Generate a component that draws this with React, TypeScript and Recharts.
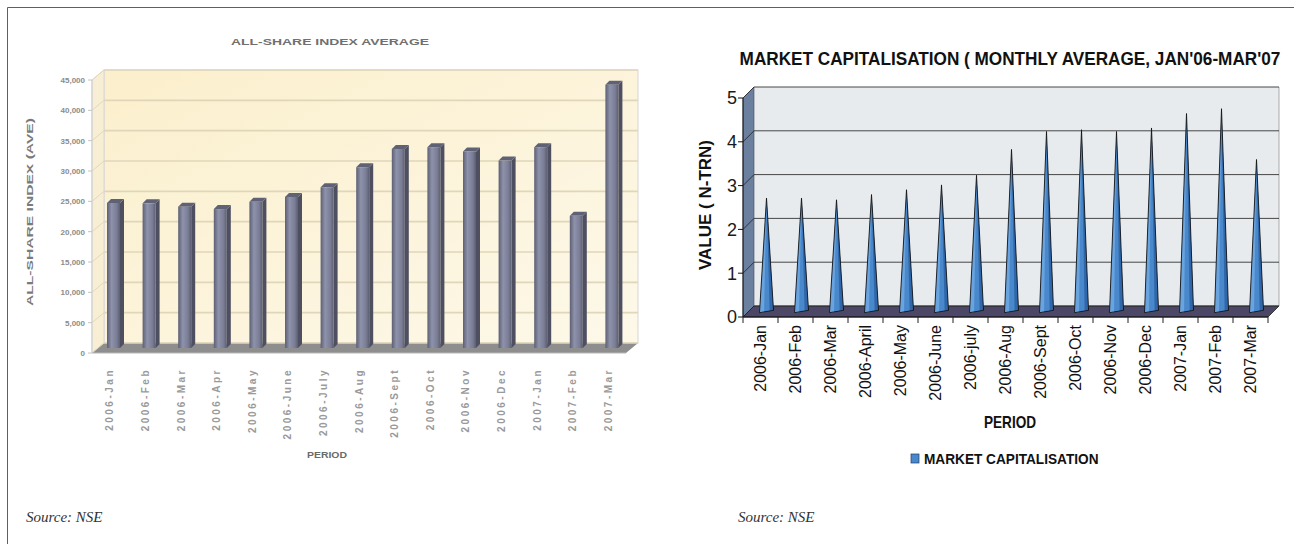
import React from 'react';
import {
  ComposedChart,
  Bar,
  XAxis,
  YAxis,
  CartesianGrid,
  ReferenceArea,
} from 'recharts';

// left chart: all-share index monthly average
const shareMonths = [
  '2006-Jan', '2006-Feb', '2006-Mar', '2006-Apr', '2006-May', '2006-June',
  '2006-July', '2006-Aug', '2006-Sept', '2006-Oct', '2006-Nov', '2006-Dec',
  '2007-Jan', '2007-Feb', '2007-Mar',
];
const shareIndex = [
  23900, 23850, 23300, 22900, 24100, 24900, 26500, 29800, 32800, 33100,
  32400, 30900, 33100, 21800, 43400,
];
const shareTicks = [0, 5000, 10000, 15000, 20000, 25000, 30000, 35000, 40000, 45000];

// right chart: market capitalisation (N trillion)
const capMonths = [
  '2006-Jan', '2006-Feb', '2006-Mar', '2006-April', '2006-May', '2006-June',
  '2006-july', '2006-Aug', '2006-Sept', '2006-Oct', '2006-Nov', '2006-Dec',
  '2007-Jan', '2007-Feb', '2007-Mar',
];
const capValues = [
  2.59, 2.59, 2.55, 2.67, 2.78, 2.89, 3.11, 3.7, 4.11, 4.15, 4.11, 4.19,
  4.52, 4.63, 3.47,
];
const capTicks = [0, 1, 2, 3, 4, 5];

const shareData = shareMonths.map((m, i) => ({ month: m, value: shareIndex[i] }));
const capData = capMonths.map((m, i) => ({ month: m, value: capValues[i] }));

const SANS = "'Liberation Sans', Arial, sans-serif";

// 3d depth of the two boxes
const SDX = 12;
const SDY = 10;
const CD = 11;

const ShareWalls = (props: any) => {
  const { x, y, width, height } = props;
  const b = y + height;
  return (
    <g>
      <defs>
        <linearGradient id="shareWall" x1="0" y1="0" x2="1" y2="1">
          <stop offset="0%" stopColor="#fbefcc" />
          <stop offset="100%" stopColor="#fdf8e9" />
        </linearGradient>
        <linearGradient id="colFace" x1="0" y1="0" x2="1" y2="0">
          <stop offset="0%" stopColor="#5d6073" />
          <stop offset="35%" stopColor="#8e92ab" />
          <stop offset="75%" stopColor="#7a7d95" />
          <stop offset="100%" stopColor="#5c5e70" />
        </linearGradient>
      </defs>
      <rect x={x + SDX} y={y - SDY} width={width} height={height} fill="url(#shareWall)" stroke="#d6d6d6" />
      <polygon
        points={`${x},${y} ${x + SDX},${y - SDY} ${x + SDX},${b - SDY} ${x},${b}`}
        fill="#f8eed4"
        stroke="#d8d8d8"
      />
      <polygon
        points={`${x},${b} ${x + SDX},${b - SDY} ${x + width + SDX},${b - SDY} ${x + width},${b}`}
        fill="#8e8e8e"
      />
    </g>
  );
};

const shareGridLine = (p: any) => (
  <g key={p.key ?? `sg-${p.y1}`}>
    <line x1={p.x1} y1={p.y1} x2={p.x1 + SDX} y2={p.y1 - SDY} stroke="#e2d8bb" strokeWidth={1} />
    <line x1={p.x1 + SDX} y1={p.y1 - SDY} x2={p.x2 + SDX} y2={p.y2 - SDY} stroke="#e0d6b9" strokeWidth={1.6} />
  </g>
);

const Column = (props: any) => {
  const { x, y, width, height } = props;
  if (!height) return null;
  const fx = x + 4;
  const fy = y - 5;
  const bd = 4;
  return (
    <g>
      <polygon
        points={`${fx + width},${fy} ${fx + width + bd},${fy - bd} ${fx + width + bd},${fy + height - bd} ${fx + width},${fy + height}`}
        fill="#4e5062"
      />
      <polygon
        points={`${fx},${fy} ${fx + bd},${fy - bd} ${fx + width + bd},${fy - bd} ${fx + width},${fy}`}
        fill="#5f6174"
      />
      <rect x={fx} y={fy} width={width} height={height} fill="url(#colFace)" />
    </g>
  );
};

const ShareTick = (p: any) => {
  const { x, y, payload } = p;
  return (
    <g transform={`translate(${x},${y})`}>
      <text
        transform="rotate(-90)"
        x={-7}
        dy="0.35em"
        textAnchor="end"
        fontSize={10}
        letterSpacing={2.5}
        fontWeight={700}
        fill="#9a9a9a"
        fontFamily={SANS}
      >
        {payload.value}
      </text>
    </g>
  );
};

const CapWalls = (props: any) => {
  const { x, y, width, height } = props;
  const b = y + height;
  return (
    <g>
      <rect x={x + CD} y={y - CD} width={width} height={height} fill="#e8ebee" />
      <line x1={x + width + CD} y1={y - CD} x2={x + width + CD} y2={b - CD} stroke="#a9a9a9" />
      <polygon
        points={`${x},${y} ${x + CD},${y - CD} ${x + CD},${b - CD} ${x},${b}`}
        fill="#6b7f9f"
        stroke="#3c4660"
        strokeWidth={0.6}
      />
      <polygon
        points={`${x},${b} ${x + CD},${b - CD} ${x + width + CD},${b - CD} ${x + width},${b}`}
        fill="#4c4767"
        stroke="#1e1e1e"
        strokeWidth={0.8}
      />
    </g>
  );
};

const capGridLine = (p: any) => (
  <g key={p.key ?? `cg-${p.y1}`}>
    <line x1={p.x1} y1={p.y1} x2={p.x1 + CD} y2={p.y1 - CD} stroke="#222" strokeWidth={0.8} />
    <line x1={p.x1 + CD} y1={p.y1 - CD} x2={p.x2 + CD} y2={p.y2 - CD} stroke="#333" strokeWidth={0.9} />
  </g>
);

const Cone = (props: any) => {
  const { x, y, width, height } = props;
  if (!height) return null;
  const h = CD / 2;
  const r = width / 2;
  const cx = x + r + h;
  const tipY = y - h;
  const baseY = y + height - h;
  const L = `${cx - r},${baseY + 1.2}`;
  const R = `${cx + r},${baseY - 1.2}`;
  return (
    <g>
      <polygon points={`${cx},${tipY} ${L} ${R}`} fill="#4a88cc" />
      <polygon points={`${cx},${tipY} ${L} ${cx - r * 0.35},${baseY + 0.8}`} fill="#6aa4df" />
      <polygon points={`${cx},${tipY} ${cx + r * 0.45},${baseY - 0.4} ${R}`} fill="#2f67aa" />
      <line x1={cx + r} y1={baseY - 1.2} x2={cx + r} y2={baseY - 4} stroke="#1a1a1a" strokeWidth={0.8} />
      <polygon points={`${cx},${tipY} ${L} ${R}`} fill="none" stroke="#141414" strokeWidth={0.9} strokeLinejoin="round" />
    </g>
  );
};

const CapTick = (p: any) => {
  const { x, y, payload, index } = p;
  const off = payload && payload.offset ? payload.offset : 17.5;
  return (
    <g transform={`translate(${x},${y})`}>
      <line x1={-off} y1={-8} x2={-off} y2={-2} stroke="#222" />
      {index === capMonths.length - 1 && (
        <line x1={off} y1={-8} x2={off} y2={-2} stroke="#222" />
      )}
      <text
        transform="rotate(-90)"
        x={0}
        dy="0.36em"
        textAnchor="end"
        fontSize={16}
        fill="#111"
        fontFamily={SANS}
      >
        {payload.value}
      </text>
    </g>
  );
};

const App: React.FC = () => {
  return (
    <div style={{ position: 'absolute', left: 0, top: 0, width: 1294, height: 544, background: '#fff', overflow: 'hidden' }}>
      {/* left: all-share index */}
      <div style={{ position: 'absolute', left: 0, top: 0 }}>
        <ComposedChart width={660} height={544} data={shareData} margin={{ top: 80, right: 34, bottom: 0, left: 0 }}>
          <ReferenceArea y1={0} y2={45000} shape={<ShareWalls />} ifOverflow="visible" zIndex={-200} />
          <CartesianGrid vertical={false} horizontal={shareGridLine} />
          <XAxis
            dataKey="month"
            interval={0}
            height={191}
            tick={<ShareTick />}
            tickLine={{ stroke: 'none' }}
            tickSize={6}
            tickMargin={2}
            axisLine={{ stroke: '#b8b8b8' }}
          />
          <YAxis
            width={92}
            domain={[0, 45000]}
            ticks={shareTicks}
            tickFormatter={(v: number) => v.toLocaleString('en-US')}
            tick={{ fontSize: 8, fontWeight: 700, fill: '#8c8c8c', fontFamily: SANS }}
            tickSize={4}
            tickMargin={3}
            tickLine={{ stroke: '#c4c4c4' }}
            axisLine={{ stroke: '#cfcfcf' }}
          />
          <Bar dataKey="value" barSize={13} shape={<Column />} isAnimationActive={false} />
        </ComposedChart>
      </div>

      {/* right: market capitalisation */}
      <div style={{ position: 'absolute', left: 660, top: 0 }}>
        <ComposedChart width={634} height={544} data={capData} margin={{ top: 98, right: 26, bottom: 0, left: 0 }}>
          <ReferenceArea y1={0} y2={5} shape={<CapWalls />} ifOverflow="visible" zIndex={-200} />
          <CartesianGrid vertical={false} horizontal={capGridLine} />
          <XAxis
            dataKey="month"
            interval={0}
            height={227}
            tick={<CapTick />}
            tickLine={{ stroke: 'none' }}
            tickSize={6}
            tickMargin={2}
            axisLine={{ stroke: '#111' }}
          />
          <YAxis
            width={83}
            domain={[0, 5]}
            ticks={capTicks}
            tick={{ fontSize: 18, fill: '#1a1a1a', fontFamily: SANS }}
            tickSize={5}
            tickMargin={1}
            tickLine={{ stroke: '#111' }}
            axisLine={{ stroke: '#111' }}
          />
          <Bar dataKey="value" barSize={14} shape={<Cone />} isAnimationActive={false} />
        </ComposedChart>
      </div>

      {/* titles, labels, legend and frame */}
      <svg width={1294} height={544} style={{ position: 'absolute', left: 0, top: 0, pointerEvents: 'none' }}>
        <line x1={7.5} y1={7.5} x2={1294} y2={7.5} stroke="#e02828" />
        <line x1={7.5} y1={7.5} x2={7.5} y2={544} stroke="#e02828" />

        <text x={330} y={45} textAnchor="middle" fontSize={9} fontWeight={700} fill="#707070" fontFamily={SANS} textLength={198} lengthAdjust="spacingAndGlyphs">
          ALL-SHARE INDEX AVERAGE
        </text>
        <text transform="translate(33,212) rotate(-90)" textAnchor="middle" fontSize={9} fontWeight={700} fill="#7a7a7a" fontFamily={SANS} textLength={188} lengthAdjust="spacingAndGlyphs">
          ALL-SHARE INDEX (AVE)
        </text>
        <text x={327} y={458} textAnchor="middle" fontSize={9} fontWeight={700} fill="#6a6a6a" fontFamily={SANS} textLength={40} lengthAdjust="spacingAndGlyphs">
          PERIOD
        </text>

        <text transform="translate(1010,65) scale(0.955,1)" textAnchor="middle" fontSize={18} fontWeight={700} fill="#111" fontFamily={SANS}>
          MARKET CAPITALISATION ( MONTHLY AVERAGE, JAN'06-MAR'07
        </text>
        <text transform="translate(711,205) rotate(-90)" textAnchor="middle" fontSize={17} fontWeight={700} fill="#111" fontFamily={SANS}>
          VALUE ( N-TRN)
        </text>
        <text transform="translate(1010,428) scale(0.85,1)" textAnchor="middle" fontSize={16} fontWeight={700} fill="#111" fontFamily={SANS}>
          PERIOD
        </text>
        <rect x={911} y={454} width={8} height={9} fill="#4a88cc" stroke="#1d3f6e" strokeWidth={0.7} />
        <text transform="translate(924,464) scale(0.91,1)" fontSize={15} fontWeight={700} fill="#111" fontFamily={SANS}>
          MARKET CAPITALISATION
        </text>

        <text x={26} y={522} fontSize={15} fontStyle="italic" fill="#333" fontFamily="'Liberation Serif', 'DejaVu Serif', serif">
          Source: NSE
        </text>
        <text x={738} y={522} fontSize={15} fontStyle="italic" fill="#333" fontFamily="'Liberation Serif', 'DejaVu Serif', serif">
          Source: NSE
        </text>
      </svg>
    </div>
  );
};

export default App;
